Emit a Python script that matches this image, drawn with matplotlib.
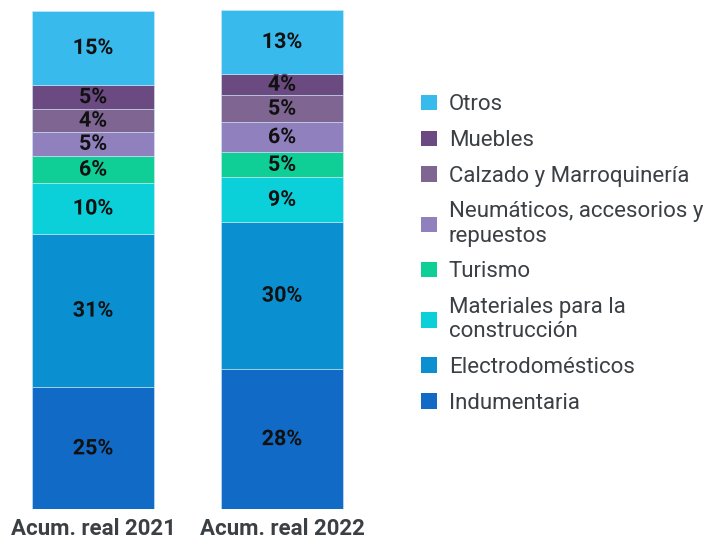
import matplotlib
matplotlib.use("Agg")
import matplotlib.pyplot as plt
import matplotlib.patheffects as pe
from matplotlib.patches import Patch

## data (share of total, %)
years = ["Acum. real 2021", "Acum. real 2022"]
categories = ["Indumentaria", "Electrodomésticos", "Materiales para la\nconstrucción",
              "Turismo", "Neumáticos, accesorios y\nrepuestos", "Calzado y Marroquinería",
              "Muebles", "Otros"]
share_2021 = [24.4, 30.8, 10.1, 5.5, 4.8, 4.5, 4.9, 14.8]
share_2022 = [28.1, 29.4, 9.0, 5.0, 6.1, 5.3, 4.3, 12.8]
labels_2021 = ["25%", "31%", "10%", "6%", "5%", "4%", "5%", "15%"]
labels_2022 = ["28%", "30%", "9%", "5%", "6%", "5%", "4%", "13%"]

colors = ["#116BC6", "#0A90D0", "#0BD0D9", "#0FCF96", "#9180BE", "#7E6592", "#6A4A80", "#38BAEC"]

plt.rcParams["font.family"] = ["Roboto", "DejaVu Sans"]

fig = plt.figure(figsize=(7.05, 5.41), dpi=100)
ax = fig.add_axes([2.3 / 705, 31.7 / 541, 370.4 / 705, 499.3 / 541])

x = [0, 1]
bottoms = [0, 0]
for i, cat in enumerate(categories):
    vals = [share_2021[i], share_2022[i]]
    bars = ax.bar(x, vals, width=0.645, bottom=bottoms, color=colors[i],
                  edgecolor="#cfe9f7", linewidth=0.4)
    txts = ax.bar_label(bars, labels=[labels_2021[i], labels_2022[i]], label_type="center",
                        fontsize=15.5, fontweight="bold", color="#111111")
    for t in txts:
        t.set_path_effects([pe.withStroke(linewidth=2, foreground=colors[i])])
    bottoms = [bottoms[0] + vals[0], bottoms[1] + vals[1]]

ax.set_xlim(-0.48, 1.48)
ax.set_ylim(0, 100)
ax.set_xticks(x)
ax.set_xticklabels(years, fontsize=16, fontweight="bold", color="#3b4045")
ax.tick_params(axis="x", length=0, pad=6)
ax.set_yticks([])
for s in ax.spines.values():
    s.set_visible(False)

#legend, top item first
handles = [Patch(facecolor=colors[i], edgecolor="none") for i in range(len(categories))][::-1]
fig.legend(handles, categories[::-1], loc="center left", bbox_to_anchor=(401 / 705, 287 / 541),
           frameon=False, fontsize=16, labelcolor="#3b4045", handlelength=0.7, handleheight=0.7,
           handletextpad=0.55, labelspacing=0.66)

fig.savefig("out.png", dpi=100)
